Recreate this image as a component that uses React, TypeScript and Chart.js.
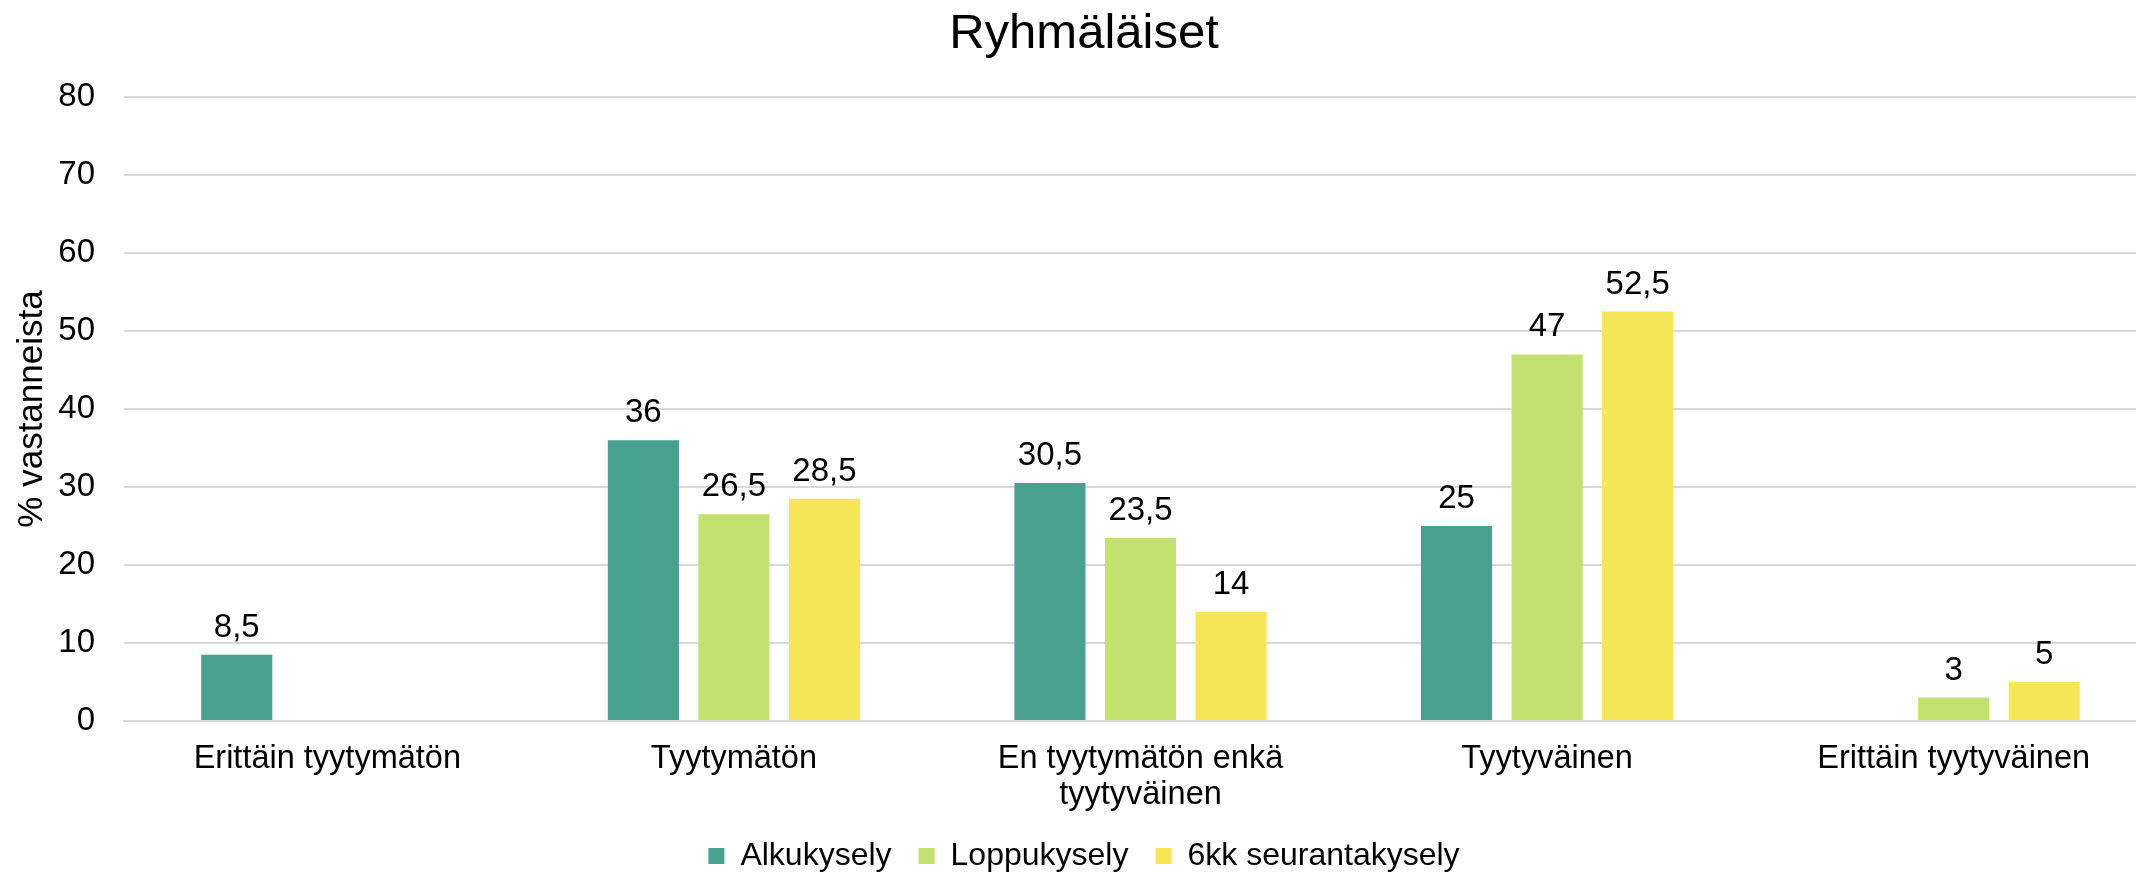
import React, { useEffect, useRef } from "react";
import { Chart, registerables } from "chart.js";

Chart.register(...registerables);

const chartTitle = "Ryhmäläiset";
const yAxisTitle = "% vastanneista";
const categories: (string | string[])[] = [
  "Erittäin tyytymätön",
  "Tyytymätön",
  ["En tyytymätön enkä", "tyytyväinen"],
  "Tyytyväinen",
  "Erittäin tyytyväinen",
];
const seriesNames = ["Alkukysely", "Loppukysely", "6kk seurantakysely"];
const alkukysely = [8.5, 36, 30.5, 25, null];
const loppukysely = [null, 26.5, 23.5, 47, 3];
const seurantakysely = [null, 28.5, 14, 52.5, 5];
const seriesColors = ["rgb(72,161,143)", "rgb(194,225,110)", "rgb(247,229,88)"];
const yMin = 0;
const yMax = 80;
const yStep = 10;

const FONT = "'Liberation Sans', Arial, sans-serif";

const valueLabels = {
  id: "valueLabels",
  afterDatasetsDraw(chart: any) {
    const ctx = chart.ctx;
    ctx.save();
    ctx.font = `33px ${FONT}`;
    ctx.fillStyle = "#000";
    ctx.textAlign = "center";
    ctx.textBaseline = "alphabetic";
    chart.data.datasets.forEach((ds: any, di: number) => {
      const meta = chart.getDatasetMeta(di);
      meta.data.forEach((el: any, i: number) => {
        const v = ds.data[i];
        if (v === null || v === undefined) return;
        ctx.fillText(String(v).replace(".", ","), el.x, el.y - 18);
      });
    });
    ctx.restore();
  },
};

// let the x-axis labels use the space down to the legend without clipping
const labelRoom = {
  id: "labelRoom",
  afterLayout(chart: any) {
    const x = chart.scales.x;
    if (x) x.bottom = x.bottom + 20;
  },
};

export default function App() {
  const ref = useRef<HTMLCanvasElement>(null);
  useEffect(() => {
    if (!ref.current) return;
    const data = [alkukysely, loppukysely, seurantakysely];
    const chart = new Chart(ref.current, {
      type: "bar",
      data: {
        labels: categories,
        datasets: seriesNames.map((name, i) => ({
          label: name,
          data: data[i],
          backgroundColor: seriesColors[i],
          borderWidth: 0,
          categoryPercentage: 0.668,
          barPercentage: 0.785,
        })),
      },
      options: {
        responsive: false,
        animation: false,
        devicePixelRatio: 1,
        layout: { padding: { left: 11, right: 11, top: 0, bottom: 0 } },
        plugins: {
          title: {
            display: true,
            text: chartTitle,
            color: "#000",
            font: { family: FONT, size: 49, weight: "normal" },
            padding: { top: 5.5, bottom: 32.7 },
          },
          legend: {
            display: true,
            position: "bottom",
            labels: {
              color: "#000",
              font: { family: FONT, size: 32 },
              boxWidth: 16,
              boxHeight: 16,
              padding: 27,
            },
          },
          tooltip: { enabled: false },
        },
        scales: {
          x: {
            grid: { display: false, drawTicks: false },
            border: { display: true, color: "#D9D9D9", width: 2 },
            ticks: {
              color: "#000",
              font: { family: FONT, size: 32.5, lineHeight: 1.11 },
              padding: 20,
              maxRotation: 0,
              autoSkip: false,
            },
            afterFit: (s: any) => {
              s.height = 92;
            },
          },
          y: {
            min: yMin,
            max: yMax,
            ticks: {
              stepSize: yStep,
              color: "#000",
              font: { family: FONT, size: 33 },
              padding: 29,
            },
            grid: { color: "#D9D9D9", lineWidth: 2, drawTicks: false },
            border: { display: false },
            title: {
              display: true,
              text: yAxisTitle,
              color: "#000",
              font: { family: FONT, size: 35 },
              padding: { top: 0, bottom: 0 },
            },
            afterFit: (s: any) => {
              s.width = 113;
            },
          },
        },
      },
      plugins: [valueLabels, labelRoom],
    });
    return () => chart.destroy();
  }, []);
  return (
    <div
      style={{
        position: "fixed",
        left: 0,
        top: 0,
        width: 2136,
        height: 872,
        overflow: "hidden",
        background: "#fff",
      }}
    >
      <canvas ref={ref} width={2168} height={882} style={{ width: 2168, height: 882, display: "block" }} />
    </div>
  );
}
